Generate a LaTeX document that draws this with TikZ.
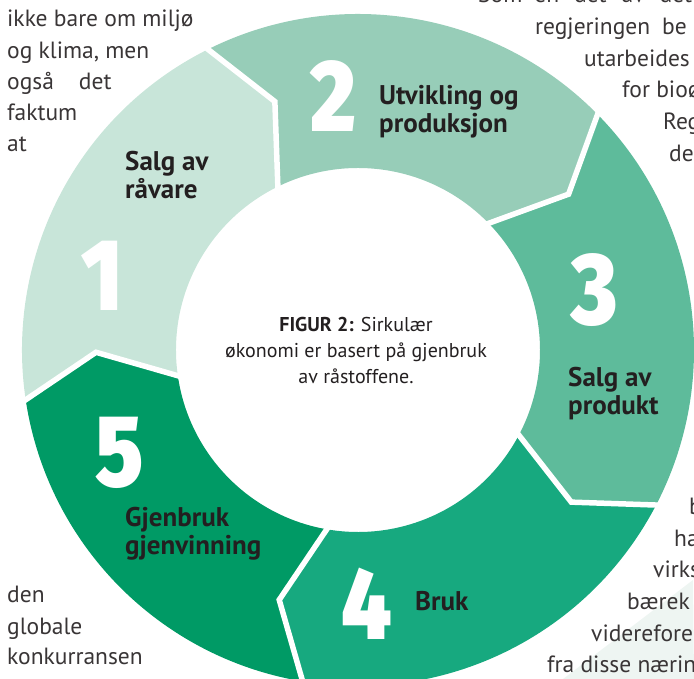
\documentclass[tikz,border=0pt]{standalone}
\usepackage{fontspec}
\setmainfont{PT Sans}
\newfontfamily\numfont{Fira Sans}[UprightFont={* Black}]
\usepackage{graphicx}
\usepackage{xcolor}
\definecolor{segA}{HTML}{C8E5D9}
\definecolor{segB}{HTML}{97CDB8}
\definecolor{segC}{HTML}{5EBB9B}
\definecolor{segD}{HTML}{17A97F}
\definecolor{segE}{HTML}{009A65}
\definecolor{ink}{HTML}{231F20}
\definecolor{pagetint}{HTML}{EEF5F2}
\newcommand{\bignum}[1]{\scalebox{0.85}[1]{#1}}

\begin{document}
\begin{tikzpicture}[x=1pt, y=1pt,
        seg1/.style={fill=segA},
        seg2/.style={fill=segB},
        seg3/.style={fill=segC},
        seg4/.style={fill=segD},
        seg5/.style={fill=segE},
        gap/.style={draw=white, line width=5.5pt, line join=miter},
        num/.style={anchor=base, inner sep=0pt, text=white, font=\numfont\fontsize{102}{102}\selectfont},
        lab/.style={anchor=base west, align=left, inner sep=0pt, text=ink, font=\bfseries\fontsize{27}{28.5}\selectfont},
        caption/.style={anchor=base, align=center, inner sep=0pt, text=ink, font=\fontsize{20}{26}\selectfont},
        body/.style={anchor=base west, inner sep=0pt, text=ink!90, font=\fontsize{23.5}{31.5}\selectfont}
    ]

        \useasboundingbox (-358,-329) rectangle (336,350);
        \clip (-358,-329) rectangle (336,350);

        \fill[pagetint] (335,-230) -- (205,-329) -- (336,-329) -- cycle;

        \fill[seg1] (189:336pt) arc[start angle=189, end angle=117, radius=336pt] -- (108.5:262pt) -- (117:182pt)
            arc[start angle=117, end angle=189, radius=182pt] -- (180.5:262pt) -- cycle;
        \fill[seg2] (117:336pt) arc[start angle=117, end angle=45, radius=336pt] -- (36.5:262pt) -- (45:182pt)
            arc[start angle=45, end angle=117, radius=182pt] -- (108.5:262pt) -- cycle;
        \fill[seg3] (45:336pt) arc[start angle=45, end angle=-27, radius=336pt] -- (-35.5:262pt) -- (-27:182pt)
            arc[start angle=-27, end angle=45, radius=182pt] -- (36.5:262pt) -- cycle;
        \fill[seg4] (-27:336pt) arc[start angle=-27, end angle=-99, radius=336pt] -- (-107.5:262pt) -- (-99:182pt)
            arc[start angle=-99, end angle=-27, radius=182pt] -- (-35.5:262pt) -- cycle;
        \fill[seg5] (-99:336pt) arc[start angle=-99, end angle=-171, radius=336pt] -- (-179.5:262pt) -- (-171:182pt)
            arc[start angle=-171, end angle=-99, radius=182pt] -- (-107.5:262pt) -- cycle;

        \draw[gap] (117:342pt) -- (108.5:262pt) -- (117:176pt);
        \draw[gap] (45:342pt) -- (36.5:262pt) -- (45:176pt);
        \draw[gap] (-27:342pt) -- (-35.5:262pt) -- (-27:176pt);
        \draw[gap] (-99:342pt) -- (-107.5:262pt) -- (-99:176pt);
        \draw[gap] (-171:342pt) -- (-179.5:262pt) -- (-171:176pt);

        \node[num] (num1) at (-256,39) {\bignum{1}};
        \node[num] (num2) at (-25,218) {\bignum{2}};
        \node[num] (num3) at (237,25) {\bignum{3}};
        \node[num] (num4) at (9,-290) {\bignum{4}};
        \node[num] (num5) at (-238,-137) {\bignum{5}};

        \node[lab] (lab1) at (-233,151) {Salg av\\råvare};
        \node[lab] (lab2) at (21,217) {Utvikling og\\produksjon};
        \node[lab] (lab3) at (210,-65) {Salg av\\produkt};
        \node[lab] (lab4) at (57,-261) {Bruk};
        \node[lab] (lab5) at (-233,-205) {Gjenbruk\\gjenvinning};

        \node[caption] (caption) at (-2,-34) {\textbf{FIGUR 2:} Sirkulær\\økonomi er basert på gjenbruk\\av råstoffene.};

        \node[body] (left1) at (-351,323) {ikke bare om miljø};
        \node[body] (left2) at (-351,291.5) {og klima, men};
        \node[body] (left3) at (-351,260) {også\hspace{25pt}det};
        \node[body] (left4) at (-351,229) {faktum};
        \node[body] (left5) at (-351,198) {at};

        \node[body] (low1) at (-351,-253) {den};
        \node[body] (low2) at (-351,-285) {globale};
        \node[body] (low3) at (-351,-315) {konkurransen};

        \node[body] (top1) at (120,347) {Som\hspace{12pt}en\hspace{15pt}det\hspace{15pt}av\hspace{15pt}det};
        \node[body] (top2) at (177,315) {regjeringen\hspace{12pt}be};
        \node[body] (top3) at (226,283) {utarbeides};
        \node[body] (top4) at (264,252) {for bioø};
        \node[body] (top5) at (305,220) {Reg};
        \node[body] (top6) at (311,188) {de};

        \node[body] (bot1) at (331,-165) {b};
        \node[body] (bot2) at (316,-197) {ha};
        \node[body] (bot3) at (295,-228) {virks};
        \node[body] (bot4) at (269,-260) {bærek};
        \node[body] (bot5) at (233,-292) {viderefore};
        \node[body] (bot6) at (189,-323) {fra disse nærin};

    \end{tikzpicture}
\end{document}
